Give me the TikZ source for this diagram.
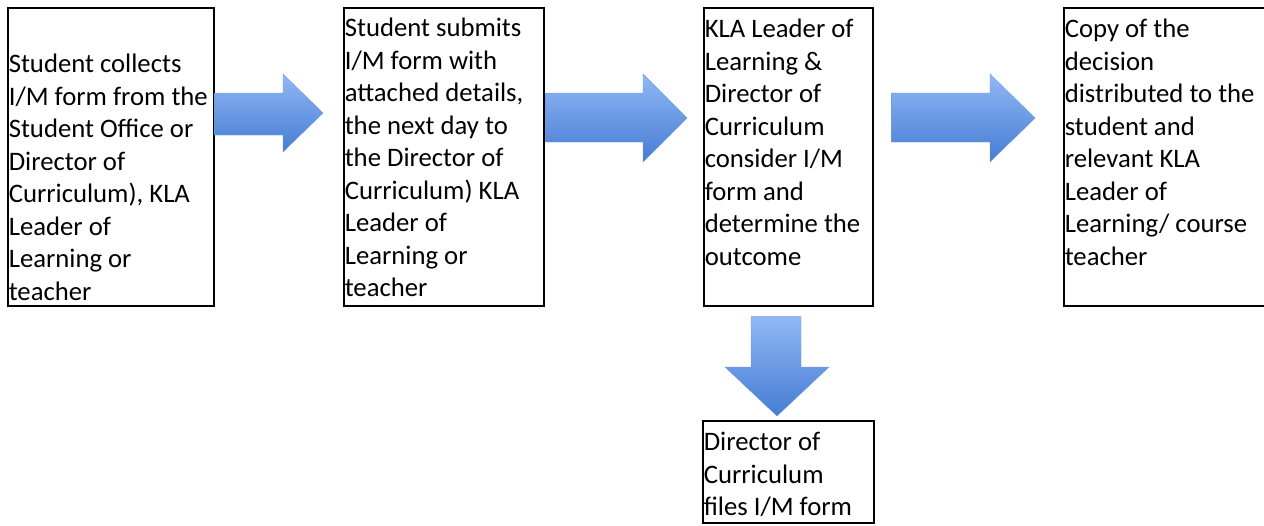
\documentclass[tikz,border=0pt]{standalone}
\usepackage{fontspec}
\setmainfont{Carlito}
\usetikzlibrary{calc}
\definecolor{arrtop}{HTML}{90B8F6}
\definecolor{arrbot}{HTML}{467CD2}
\definecolor{arredge}{HTML}{6E9BE0}
\tikzset{
  box/.style={draw=black, line width=1.6pt, inner xsep=1pt, inner ysep=0pt, anchor=north west},
  blockarrow/.style={top color=arrtop, bottom color=arrbot, draw=arredge, line width=0.4pt, line join=miter}
}
\newcommand\boxtext[4]{\parbox[c][#2][t]{#1}{\fontsize{26.7pt}{32.5pt}\selectfont\raggedright\rule{0pt}{#3}#4}}
\begin{document}
\begin{tikzpicture}[x=1pt,y=1pt]
\useasboundingbox (0,0) rectangle (1264,-525);
\node[box] (b1) at (7,-7) {\boxtext{204pt}{298pt}{65pt}{Student collects\\ I/M form from the\\ Student Office or\\ Director of\\ Curriculum), KLA\\ Leader of\\ Learning or\\ teacher}};
\node[box] (b2) at (343,-7) {\boxtext{198pt}{298pt}{29pt}{Student submits\\ I/M form with\\ attached details,\\ the next day to\\ the Director of\\ Curriculum) KLA\\ Leader of\\ Learning or\\ teacher}};
\node[box] (b3) at (703,-7) {\boxtext{167pt}{298pt}{30pt}{KLA Leader of\\ Learning \&\\ Director of\\ Curriculum\\ consider I/M\\ form and\\ determine the\\ outcome}};
\node[box] (b4) at (1063,-7) {\boxtext{198.5pt}{298pt}{30pt}{Copy of the\\ decision\\ distributed to the\\ student and\\ relevant KLA\\ Leader of\\ Learning/ course\\ teacher}};
\node[box] (b5) at (702,-420) {\boxtext{169pt}{102pt}{30pt}{Director of\\ Curriculum\\ files I/M form}};
% arrow 1
\path[blockarrow] let \p1=(b1.east), \p2=(b2.west) in
  (\x1,-93) -- (\x2-60,-93) -- (\x2-60,-74) -- (\x2-20,-113) -- (\x2-60,-152) -- (\x2-60,-135) -- (\x1,-135) -- cycle;
% arrow 2
\path[blockarrow] let \p1=(b2.east), \p2=(b3.west) in
  (\x1+1,-93) -- (\x2-60,-93) -- (\x2-60,-74) -- (\x2-16,-118) -- (\x2-60,-162) -- (\x2-60,-142) -- (\x1+1,-142) -- cycle;
% arrow 3
\path[blockarrow] let \p1=(b3.east), \p2=(b4.west) in
  (\x1+18,-93) -- (\x2-73,-93) -- (\x2-73,-74) -- (\x2-28,-118) -- (\x2-73,-162) -- (\x2-73,-142) -- (\x1+18,-142) -- cycle;
% down arrow
\path[blockarrow] let \p1=(b3.south), \p2=(b5.north) in
  (751,\y1-10) -- (801,\y1-10) -- (801,\y2+53) -- (829,\y2+53) -- (777,\y2+4) -- (725,\y2+53) -- (751,\y2+53) -- cycle;
\end{tikzpicture}
\end{document}
